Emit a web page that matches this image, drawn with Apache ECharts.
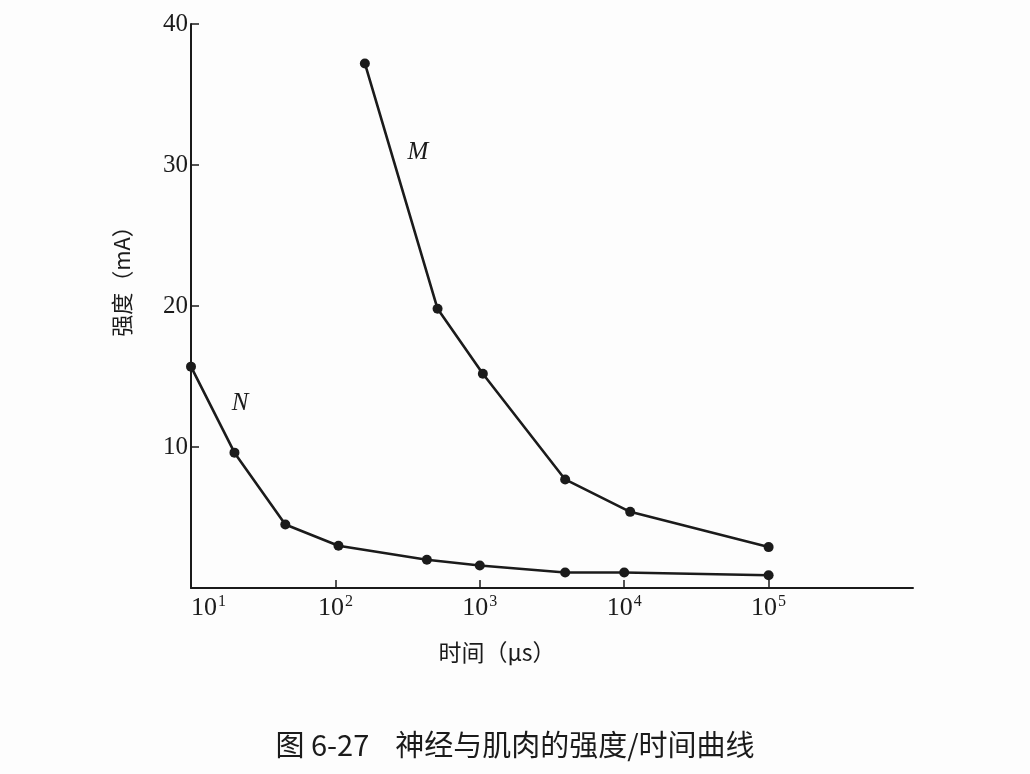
<!DOCTYPE html>
<html>
<head>
<meta charset="utf-8">
<script src="https://cdn.jsdelivr.net/npm/echarts@6/dist/echarts.min.js"></script>
<style>
html,body{margin:0;padding:0;background:#fdfdfd;}
#c{width:1030px;height:774px;}
</style>
</head>
<body>
<div id="c"></div>
<script>
// Data
const nTime = [10, 20, 45, 105, 430, 1000, 3900, 10000, 100000];
const nStrength = [15.7, 9.6, 4.5, 3.0, 2.0, 1.6, 1.1, 1.1, 0.9];
const mTime = [160, 510, 1050, 3900, 11000, 100000];
const mStrength = [37.2, 19.8, 15.2, 7.7, 5.4, 2.9];
const xTickValues = [100, 1000, 10000, 100000];
const xLabelValues = [10, 100, 1000, 10000, 100000];
const yTickLabels = [10, 20, 30, 40];

const ink = '#1b1b1b';
const serif = '"Liberation Serif", "DejaVu Serif", serif';
const cjk = '"Noto Sans CJK SC", sans-serif';

function pairs(xs, ys) { return xs.map((x, i) => [x, ys[i]]); }

const chart = echarts.init(document.getElementById('c'), null, {renderer: 'canvas'});
chart.setOption({
  backgroundColor: '#fdfdfd',
  animation: false,
  grid: {left: 191, right: 117, top: 24, bottom: 186, containLabel: false},
  xAxis: {
    type: 'log',
    logBase: 10,
    min: 10,
    max: 1000000,
    axisLine: {show: true, lineStyle: {color: ink, width: 2}},
    axisTick: {show: true, inside: true, length: 8, customValues: xTickValues, lineStyle: {color: ink, width: 1.5}},
    splitLine: {show: false},
    minorTick: {show: false},
    axisLabel: {
      customValues: xLabelValues,
      margin: 6,
      alignMinLabel: 'left',
      formatter: function (v) {
        const e = Math.round(Math.log10(v));
        return '{b|10}{s|' + e + '}';
      },
      rich: {
        b: {fontFamily: serif, fontSize: 26, color: ink, lineHeight: 28},
        s: {fontFamily: serif, fontSize: 16, color: ink, verticalAlign: 'top', lineHeight: 14, padding: [0, 0, 10, 1]}
      }
    }
  },
  yAxis: {
    type: 'value',
    min: 0,
    max: 40,
    interval: 10,
    axisLine: {show: true, lineStyle: {color: ink, width: 2}},
    axisTick: {show: true, inside: true, length: 8, lineStyle: {color: ink, width: 1.5}},
    splitLine: {show: false},
    axisLabel: {
      margin: 3,
      fontFamily: serif,
      fontSize: 25,
      color: ink,
      formatter: function (v) { return yTickLabels.indexOf(v) >= 0 ? String(v) : ''; }
    }
  },
  series: [
    {
      name: 'N', type: 'line', data: pairs(nTime, nStrength),
      symbol: 'circle', symbolSize: 10,
      lineStyle: {color: ink, width: 2.6},
      itemStyle: {color: ink}
    },
    {
      name: 'M', type: 'line', data: pairs(mTime, mStrength),
      symbol: 'circle', symbolSize: 10,
      lineStyle: {color: ink, width: 2.6},
      itemStyle: {color: ink}
    }
  ],
  graphic: [
    {type: 'text', x: 122, y: 276, rotation: Math.PI / 2,
     style: {text: '强度（mA）', font: '22px ' + cjk, fill: ink, textAlign: 'center', textVerticalAlign: 'middle'}},
    {type: 'text', x: 497, y: 652,
     style: {text: '时间（μs）', font: '23px ' + cjk, fill: ink, textAlign: 'center', textVerticalAlign: 'middle'}},
    {type: 'text', x: 515, y: 745,
     style: {text: '图 6-27    神经与肌肉的强度/时间曲线', font: '29px ' + cjk, fill: ink, textAlign: 'center', textVerticalAlign: 'middle'}},
    {type: 'text', x: 418, y: 152,
     style: {text: 'M', font: 'italic 25px ' + serif, fill: ink, textAlign: 'center', textVerticalAlign: 'middle'}},
    {type: 'text', x: 240, y: 403,
     style: {text: 'N', font: 'italic 25px ' + serif, fill: ink, textAlign: 'center', textVerticalAlign: 'middle'}}
  ]
});
</script>
</body>
</html>
